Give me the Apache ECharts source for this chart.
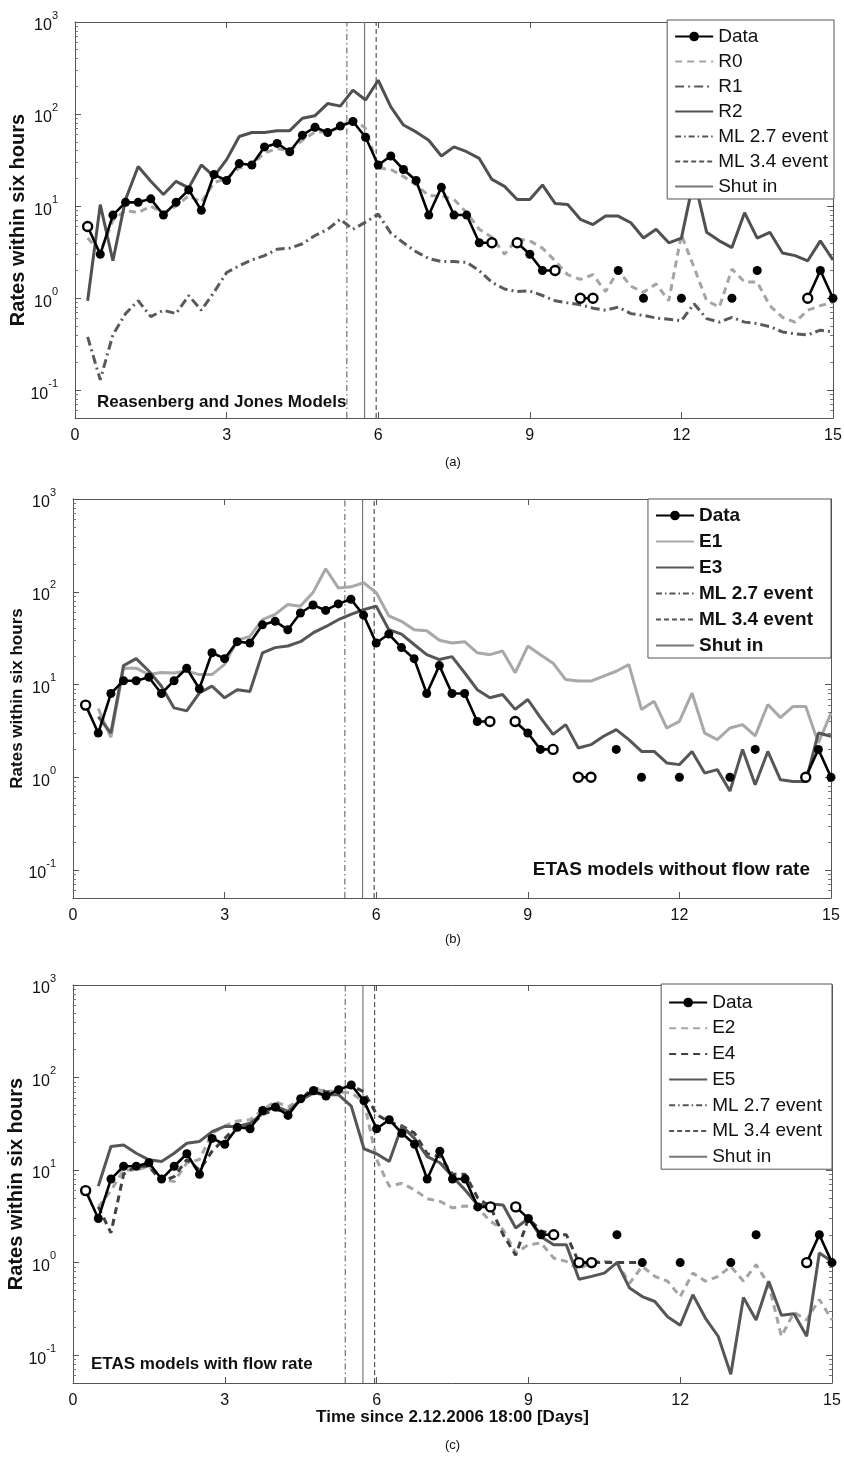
<!DOCTYPE html>
<html><head><meta charset="utf-8">
<script src="https://cdn.jsdelivr.net/npm/echarts@6/dist/echarts.min.js"></script>
<style>html,body{margin:0;padding:0;background:#fff}#chart{width:844px;height:1457px}</style>
</head><body><div id="chart"></div>
<script>
// ---- data ----
const days = [0.25,0.5,0.75,1,1.25,1.5,1.75,2,2.25,2.5,2.75,3,3.25,3.5,3.75,4,4.25,4.5,4.75,5,
  5.25,5.5,5.75,6,6.25,6.5,6.75,7,7.25,7.5,7.75,8,8.25,8.5,8.75,9,9.25,9.5,9.75,10,
  10.25,10.5,10.75,11,11.25,11.5,11.75,12,12.25,12.5,12.75,13,13.25,13.5,13.75,14,14.25,14.5,14.75,15];
const dataCounts = [6,3,8,11,11,12,8,11,15,9, 22,19,29,28,44,48,39,59,72,63,
  74,83,56,28,35,25,19,8,16,8, 8,4,4,0,4,3,2,2,0,1, 1,0,2,0,1,0,0,1,0,0, 0,1,0,2,0,0,0,1,2,1];
const openMarkerDays = [0.25, 8.25, 8.75, 9.5, 10, 10.25, 14.5];
const r0 = [4.5,3.2,7,9,8.5,10,8.5,10,13,11, 18,20,26,28,38,42,40,52,64,64,
  72,90,70,26,25,21,17,13,13,11.8, 8.5,5.6,4.6,3.0,4.4,4.2,3.5,2.55,1.8,1.6,
  1.8,1.18,2.0,1.35,1.16,1.43,0.94,4.9,2.16,0.94, 0.8,2.07,1.5,1.5,0.83,0.62,0.55,0.74,0.83,0.9];
const r1 = [0.38,0.13,0.40,0.68,0.94,0.63,0.74,0.68,1.07,0.74, 1.16,1.9,2.25,2.6,2.9,3.4,3.5,3.9,4.8,5.6,
  7.2,5.6,6.7,8.2,5.1,4.0,3.2,2.7,2.5,2.5, 2.45,1.99,1.49,1.26,1.18,1.2,1.07,0.94,0.89,0.85,
  0.78,0.74,0.80,0.68,0.65,0.61,0.59,0.57,0.87,0.6, 0.55,0.62,0.55,0.53,0.49,0.43,0.41,0.40,0.45,0.43];
const r2 = [0.94,10.4,2.55,11.8,27,18.6,13.4,18.6,15.8,28, 21,32,57,63,63,66,66,90,96,130,
  122,182,142,233,120,76,64,52,35,44, 39,33,19.5,16.4,11.8,11.8,17,10.7,10.4,7.2,
  6.3,7.8,7.8,6.6,4.5,5.6,4.0,4.5,20,5.2, 4.2,3.55,8.5,4.5,5.2,3.1,2.9,2.55,4.2,2.6];
const e1 = [null,5.5,2.7,15,15,12.8,13.5,13.3,14,12.8, 12.8,16.5,30,33,50,57,73,70,98,177,
  110,113,125,98,55,48,39,38,30,28, 29,22,21,23,13.4,26,21,17,11.3,10.9,
  10.9,12.3,13.9,16.4,5.4,6.6,3.4,4.0,8.1,3.0, 2.55,3.4,3.7,2.8,6.1,4.4,5.8,5.8,2.35,4.9];
const e3 = [null,4.5,3.0,16,19,14,9.6,5.6,5.2,8.1, 9.6,7.2,8.8,8.4,22,25,26,29,36,42,
  50,57,64,70,39,35,27,21,18.6,20, 13.4,8.8,7.2,7.8,5.4,6.9,4.4,2.9,3.7,2.07,
  2.25,2.77,3.27,2.55,1.9,1.9,1.43,1.37,1.9,1.11, 1.21,0.71,2.0,0.83,1.9,0.94,0.9,0.9,3.0,2.77];
const e2 = [null,4,6,10,10,11,8,7.5,12,13, 25,30,34,35,45,55,48,58,74,72,
  70,68,55,13,6.7,7.2,6.1,4.9,4.6,3.9, 4.1,3.9,2.8,2.27,1.27,1.56,1.63,1.12,1.03,0.84,
  1.03,1.03,1.0,0.6,0.91,0.71,0.63,0.43,0.77,0.63, 0.71,0.91,0.63,0.95,0.58,0.16,0.29,0.24,0.4,0.24];
const e4 = [null,4,2.1,9,11,11,7.5,8.5,13,10, 16,22,30,30,40,45,42,58,78,70,
  72,82,70,40,33,30,25,15,14,9, 9,5,4,2.0,1.2,3,2.2,2,2,1,
  1,1,1,1,1,null,null,null,null,null, null,null,null,null,null,null,null,null,null,null];
const e5 = [null,6.7,18,18.7,15.2,12.9,12.4,15.2,19.5,20.4, 26,29.6,29.6,32,41,49,43,57,68,65,
  65,49,17,15,12.4,30,22,14,12,8.5, 6.1,4.2,4.3,4.2,2.37,3.0,1.9,1.56,1.56,0.66,
  0.71,0.77,1.0,0.53,0.43,0.38,0.26,0.21,0.45,0.25, 0.16,0.062,0.42,0.24,0.63,0.27,0.28,0.16,1.27,1.03];
const eventML27 = 5.38, eventML34 = 5.96, shutInDay = 5.73;
const xTicks = [0, 3, 6, 9, 12, 15];
const yDecades = [-1, 0, 1, 2, 3];
const yRange = [0.05, 1000];

// ---- helpers ----
const FONT = 'Liberation Sans, Arial, Helvetica, sans-serif';
const AX = '#555';
const logMin = Math.log10(yRange[0]), logMax = Math.log10(yRange[1]);
const minorLogs = [];
for (let d = -2; d < 3; d++) for (let k = 2; k <= 9; k++) {
  const v = Math.log10(k * Math.pow(10, d));
  if (v > logMin + 1e-6 && v < logMax) minorLogs.push(v);
}
const toPairs = arr => days.map((d, i) => [d, (arr[i] == null || arr[i] <= 0) ? null : arr[i]]);
const openPairs = days.map((d, i) => [d, dataCounts[i]]).filter(p => openMarkerDays.indexOf(p[0]) >= 0);

const panels = [
  { grid: {left: 75, top: 22, width: 758, height: 396},
    models: [
      {name: 'R0', values: r0, color: '#a4a4a4', type: [7, 5]},
      {name: 'R1', values: r1, color: '#5a5a5a', type: [9, 4, 2, 4]},
      {name: 'R2', values: r2, color: '#505050', type: 'solid'}],
    legend: {right: 10, top: 20, bold: false, gap: 6, pad: [7, 6, 3, 7]},
    yNameSize: 20, yNameGap: 47,
    note: {text: 'Reasenberg and Jones Models', left: 97, top: 394, size: 17},
    tag: {text: '(a)', top: 456} },
  { grid: {left: 73, top: 499, width: 758, height: 399},
    models: [
      {name: 'E1', values: e1, color: '#a8a8a8', type: 'solid'},
      {name: 'E3', values: e3, color: '#565656', type: 'solid'}],
    legend: {right: 13, top: 499, bold: true, gap: 7, pad: [7, 18, 3, 7]},
    yNameSize: 17, yNameGap: 47,
    note: {text: 'ETAS models without flow rate', right: 34, top: 860, size: 19},
    tag: {text: '(b)', top: 933} },
  { grid: {left: 73, top: 985, width: 759, height: 398},
    models: [
      {name: 'E2', values: e2, color: '#a4a4a4', type: [7, 5]},
      {name: 'E4', values: e4, color: '#404040', type: [7, 5]},
      {name: 'E5', values: e5, color: '#565656', type: 'solid'}],
    legend: {right: 12, top: 984, bold: false, gap: 6.7, pad: [9, 10, 3, 7]},
    yNameSize: 20, yNameGap: 47,
    note: {text: 'ETAS models with flow rate', left: 91, top: 1356, size: 17},
    tag: {text: '(c)', top: 1439},
    xName: 'Time since 2.12.2006 18:00 [Days]' }
];

const option = {
  animation: false,
  backgroundColor: '#fff',
  textStyle: {fontFamily: FONT},
  grid: [], xAxis: [], yAxis: [], series: [], legend: [], title: []
};

panels.forEach((p, g) => {
  option.grid.push(Object.assign({containLabel: false, outerBoundsMode: 'none'}, p.grid));
  const xBase = {gridIndex: g, type: 'value', min: xTicks[0], max: xTicks[xTicks.length - 1], interval: 3,
    splitLine: {show: false},
    axisLine: {onZero: false, lineStyle: {color: AX, width: 1}},
    axisTick: {inside: true, length: 6, lineStyle: {color: AX}}};
  option.xAxis.push(Object.assign({}, xBase, {position: 'bottom',
    axisLabel: {fontSize: 16, color: '#111', margin: 10, fontFamily: FONT},
    name: p.xName || '', nameLocation: 'middle', nameGap: 26, nameMoveOverlap: false,
    nameTextStyle: {fontSize: 17, fontWeight: 'bold', color: '#111', fontFamily: FONT}}));
  option.xAxis.push(Object.assign({}, xBase, {position: 'top', axisLabel: {show: false}}));

  // data axis (log scale)
  option.yAxis.push({gridIndex: g, type: 'log', logBase: 10, min: yRange[0], max: yRange[1], show: false});
  const decoBase = {gridIndex: g, type: 'value', min: logMin, max: logMax, splitLine: {show: false}};
  option.yAxis.push(Object.assign({}, decoBase, {position: 'left',
    axisLine: {show: true, onZero: false, lineStyle: {color: AX, width: 1}},
    axisTick: {inside: true, length: 6, customValues: yDecades, lineStyle: {color: AX}},
    axisLabel: {customValues: yDecades, margin: 17,
      formatter: v => '{b|10}{s|' + Math.round(v) + '}',
      rich: {b: {fontSize: 16, color: '#111', fontFamily: FONT, verticalAlign: 'bottom', lineHeight: 24},
             s: {fontSize: 11, color: '#111', fontFamily: FONT, verticalAlign: 'top', lineHeight: 12}}},
    name: 'Rates within six hours', nameLocation: 'middle', nameRotate: 90, nameGap: p.yNameGap,
    nameMoveOverlap: false,
    nameTextStyle: {fontSize: p.yNameSize, fontWeight: 'bold', color: '#111', fontFamily: FONT}}));
  option.yAxis.push(Object.assign({}, decoBase, {position: 'left', axisLine: {show: false, onZero: false},
    axisTick: {inside: true, length: 3, customValues: minorLogs, lineStyle: {color: '#777'}},
    axisLabel: {show: false}}));
  option.yAxis.push(Object.assign({}, decoBase, {position: 'right',
    axisLine: {show: true, onZero: false, lineStyle: {color: AX, width: 1}},
    axisTick: {inside: true, length: 6, customValues: yDecades, lineStyle: {color: AX}},
    axisLabel: {show: false}}));
  option.yAxis.push(Object.assign({}, decoBase, {position: 'right', axisLine: {show: false, onZero: false},
    axisTick: {inside: true, length: 3, customValues: minorLogs, lineStyle: {color: '#777'}},
    axisLabel: {show: false}}));

  const xi = 2 * g, yi = 5 * g;
  const vline = (name, day, color, width, type) => ({
    name, type: 'line', xAxisIndex: xi, yAxisIndex: yi, z: 1, symbol: 'none', silent: true,
    data: [[day, yRange[0]], [day, yRange[1]]],
    lineStyle: {color, width, type}, itemStyle: {color}});
  option.series.push(vline('ML 2.7 event', eventML27, '#555', 1, [6, 3, 1.5, 3]));
  option.series.push(vline('ML 3.4 event', eventML34, '#555', 1.2, [5, 3]));
  option.series.push(vline('Shut in', shutInDay, '#777', 1.2, 'solid'));

  p.models.forEach(m => option.series.push({
    name: m.name, type: 'line', xAxisIndex: xi, yAxisIndex: yi, z: 2, symbol: 'none',
    connectNulls: false, data: toPairs(m.values),
    lineStyle: {color: m.color, width: 3, type: m.type}, itemStyle: {color: m.color}}));

  option.series.push({name: 'Data', type: 'line', xAxisIndex: xi, yAxisIndex: yi, z: 3,
    symbol: 'circle', symbolSize: 9, showAllSymbol: true, connectNulls: false,
    data: toPairs(dataCounts),
    lineStyle: {color: '#000', width: 2.6}, itemStyle: {color: '#000'}});
  option.series.push({name: 'Data (open)', type: 'scatter', xAxisIndex: xi, yAxisIndex: yi, z: 4,
    symbol: 'circle', symbolSize: 9, data: openPairs,
    itemStyle: {color: '#fff', borderColor: '#000', borderWidth: 2.4, opacity: 1}});

  const noSym = name => ({name, itemStyle: {opacity: 0}});
  option.legend.push({
    orient: 'vertical', right: p.legend.right, top: p.legend.top, selectedMode: false,
    data: [{name: 'Data'}].concat(p.models.map(m => noSym(m.name)),
      [noSym('ML 2.7 event'), noSym('ML 3.4 event'), noSym('Shut in')]),
    itemWidth: 38, itemHeight: 12, itemGap: p.legend.gap, padding: p.legend.pad,
    borderColor: AX, borderWidth: 1, borderRadius: 0, backgroundColor: '#fff',
    textStyle: {fontSize: 19, color: '#111', fontFamily: FONT, fontWeight: p.legend.bold ? 'bold' : 'normal'}
  });

  option.title.push(Object.assign({text: p.note.text, top: p.note.top,
    textStyle: {fontSize: p.note.size, fontWeight: 'bold', color: '#111', fontFamily: FONT}, padding: 0},
    p.note.left != null ? {left: p.note.left} : {right: p.note.right}));
  option.title.push({text: p.tag.text, left: 445, top: p.tag.top, padding: 0,
    textStyle: {fontSize: 13, fontWeight: 'normal', color: '#111', fontFamily: FONT}});
});

const chart = echarts.init(document.getElementById('chart'), null, {renderer: 'canvas'});
chart.setOption(option);
</script>
</body></html>
